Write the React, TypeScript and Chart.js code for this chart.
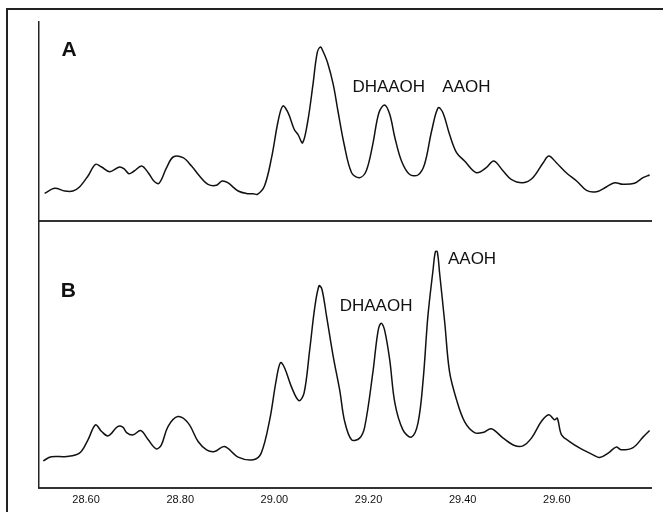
import React, { useEffect, useRef } from "react";
import { Chart, registerables } from "chart.js";

Chart.register(...registerables);

// Retention time (min) and detector signal (arbitrary units) — trace A
const retentionA = [
  28.512, 28.533, 28.555, 28.572, 28.586, 28.604, 28.620, 28.633, 28.650, 28.671,
  28.682, 28.691, 28.702, 28.718, 28.732, 28.744, 28.755, 28.771, 28.785, 28.806,
  28.824, 28.841, 28.859, 28.877, 28.889, 28.901, 28.923, 28.944, 28.955, 28.964,
  28.979, 28.994, 29.008, 29.018, 29.029, 29.042, 29.050, 29.060, 29.071, 29.082,
  29.091, 29.098, 29.103, 29.113, 29.125, 29.135, 29.148, 29.164, 29.181, 29.195,
  29.209, 29.222, 29.234, 29.245, 29.256, 29.270, 29.287, 29.305, 29.319, 29.334,
  29.348, 29.358, 29.372, 29.387, 29.404, 29.429, 29.450, 29.466, 29.486, 29.503,
  29.528, 29.549, 29.571, 29.583, 29.599, 29.620, 29.642, 29.663, 29.684, 29.705,
  29.723, 29.740, 29.765, 29.783, 29.797,
];
const signalA = [
  27.7, 32.7, 30, 30, 34, 45, 56.7, 54, 49.3, 54,
  51.7, 47.3, 50, 55, 48.3, 40, 37.7, 53.3, 64, 63.3,
  55, 45, 36.7, 35.7, 40, 38.3, 30, 27.3, 27.3, 26.7,
  35, 63.3, 100, 115, 108.3, 91.7, 86.7, 78.3, 100, 136.7,
  168.3, 174, 170, 158.3, 136.7, 110, 77, 48.3, 43.3, 50,
  76.7, 108.3, 116, 106.7, 83.3, 60, 46.7, 46, 56.7, 90,
  113.3, 108.3, 86.7, 68.3, 60, 48.3, 53.3, 60, 50, 41.7,
  38.3, 43.3, 58.3, 65, 58.3, 48.3, 40, 30.7, 29.3, 34,
  38.3, 36.7, 37.7, 43.3, 46,
];

// Trace B
const retentionB = [
  28.509, 28.526, 28.558, 28.586, 28.604, 28.620, 28.633, 28.647, 28.667, 28.678,
  28.686, 28.700, 28.716, 28.732, 28.749, 28.760, 28.774, 28.795, 28.817, 28.838,
  28.856, 28.873, 28.894, 28.923, 28.955, 28.972, 28.990, 29.004, 29.013, 29.022,
  29.036, 29.052, 29.063, 29.075, 29.086, 29.095, 29.101, 29.111, 29.125, 29.139,
  29.149, 29.164, 29.181, 29.192, 29.209, 29.220, 29.227, 29.234, 29.245, 29.256,
  29.273, 29.291, 29.305, 29.316, 29.326, 29.337, 29.342, 29.346, 29.351, 29.362,
  29.372, 29.387, 29.404, 29.425, 29.443, 29.461, 29.486, 29.510, 29.528, 29.546,
  29.567, 29.583, 29.595, 29.601, 29.610, 29.627, 29.649, 29.677, 29.691, 29.709,
  29.726, 29.737, 29.762, 29.783, 29.797,
];
const signalB = [
  27, 31, 31.3, 34.7, 48, 63, 56.3, 52, 61.3, 60.7,
  55.3, 53, 57.3, 48, 39, 43, 61.3, 71.3, 64.7, 46.3,
  38, 36.3, 41.3, 30.7, 28, 34.7, 68, 108, 125.3, 119.7,
  101.3, 87.3, 94.7, 138, 181.3, 202.3, 198.7, 171.3, 131.3, 97,
  67, 48, 49.7, 61.3, 114.7, 156.3, 164.7, 158, 128, 84.7,
  58, 50.7, 64.7, 108, 171.3, 218, 236.3, 236.3, 214.7, 164.7,
  116.3, 88, 66.3, 55.3, 55.3, 59, 49.7, 42.3, 42, 49.7,
  66.3, 73, 68, 69.7, 53, 46.3, 39.7, 33, 30.3, 34.7,
  40.7, 38, 40.3, 50.7, 57.3,
];

const xTickValues = [28.6, 28.8, 29.0, 29.2, 29.4, 29.6];
const X_MIN = 28.5;
const X_MAX = 29.8;

type Note = { text: string; x: number; y: number; bold?: boolean; size: number };

const notesA: Note[] = [
  { text: "A", x: 28.548, y: 165, bold: true, size: 21 },
  { text: "DHAAOH", x: 29.1657, y: 129.3, size: 17 },
  { text: "AAOH", x: 29.3568, y: 129.3, size: 17 },
];
const notesB: Note[] = [
  { text: "B", x: 28.546, y: 191.3, bold: true, size: 21 },
  { text: "DHAAOH", x: 29.1387, y: 177.3, size: 17 },
  { text: "AAOH", x: 29.3687, y: 224, size: 17 },
];

const FONT = "'Liberation Sans', Arial, Helvetica, sans-serif";

function makeNotesPlugin(notes: Note[]) {
  return {
    id: "notes",
    afterDatasetsDraw(chart: any) {
      const ctx = chart.ctx;
      const xs = chart.scales.x;
      const ys = chart.scales.y;
      ctx.save();
      ctx.fillStyle = "#111";
      ctx.textAlign = "left";
      ctx.textBaseline = "alphabetic";
      for (const n of notes) {
        ctx.font = `${n.bold ? "bold " : ""}${n.size}px ${FONT}`;
        ctx.fillText(n.text, xs.getPixelForValue(n.x), ys.getPixelForValue(n.y));
      }
      ctx.restore();
    },
  };
}

function buildChart(
  canvas: HTMLCanvasElement,
  xs: number[],
  ys: number[],
  yMax: number,
  showLabels: boolean,
  notes: Note[],
  padding: { left: number; right: number; top: number; bottom: number }
) {
  return new Chart(canvas, {
    type: "line",
    data: {
      datasets: [
        {
          data: xs.map((x, i) => ({ x, y: ys[i] })),
          borderColor: "#111",
          borderWidth: 1.5,
          pointRadius: 0,
          tension: 0.35,
          fill: false,
        },
      ],
    },
    options: {
      responsive: false,
      animation: false,
      events: [],
      layout: { padding },
      plugins: { legend: { display: false }, tooltip: { enabled: false } },
      scales: {
        x: {
          type: "linear",
          min: X_MIN,
          max: X_MAX,
          grid: { display: false, drawTicks: false },
          border: { display: true, color: "#333", width: 2 },
          afterBuildTicks: (scale: any) => {
            scale.ticks = xTickValues.map((v) => ({ value: v }));
          },
          ticks: {
            display: showLabels,
            padding: 6,
            color: "#111",
            font: { family: FONT, size: 11 },
            callback: (v: any) => Number(v).toFixed(2),
            maxRotation: 0,
            autoSkip: false,
          },
        },
        y: {
          type: "linear",
          min: 0,
          max: yMax,
          grid: { display: false, drawTicks: false },
          border: { display: true, color: "#222", width: 1.5 },
          ticks: { display: false },
        },
      },
    },
    plugins: [makeNotesPlugin(notes)],
  } as any);
}

export default function App() {
  const refA = useRef<HTMLCanvasElement>(null);
  const refB = useRef<HTMLCanvasElement>(null);

  useEffect(() => {
    const a = buildChart(refA.current!, retentionA, signalA, 199, false, notesA, {
      left: 39, right: 12, top: 22, bottom: 1,
    });
    const b = buildChart(refB.current!, retentionB, signalB, 267, true, notesB, {
      left: 39, right: 12, top: 0, bottom: 1,
    });
    return () => {
      a.destroy();
      b.destroy();
    };
  }, []);

  return (
    <div
      style={{
        position: "fixed",
        left: 0,
        top: 0,
        width: 663,
        height: 512,
        background: "#fff",
        overflow: "hidden",
      }}
    >
      <div
        style={{
          position: "absolute",
          left: 6,
          top: 8,
          width: 663,
          height: 520,
          borderTop: "2px solid #222",
          borderLeft: "2px solid #222",
        }}
      />
      <canvas
        ref={refA}
        width={663}
        height={222}
        style={{ position: "absolute", left: 0, top: 0 }}
      />
      <canvas
        ref={refB}
        width={663}
        height={293}
        style={{ position: "absolute", left: 0, top: 221 }}
      />
    </div>
  );
}
